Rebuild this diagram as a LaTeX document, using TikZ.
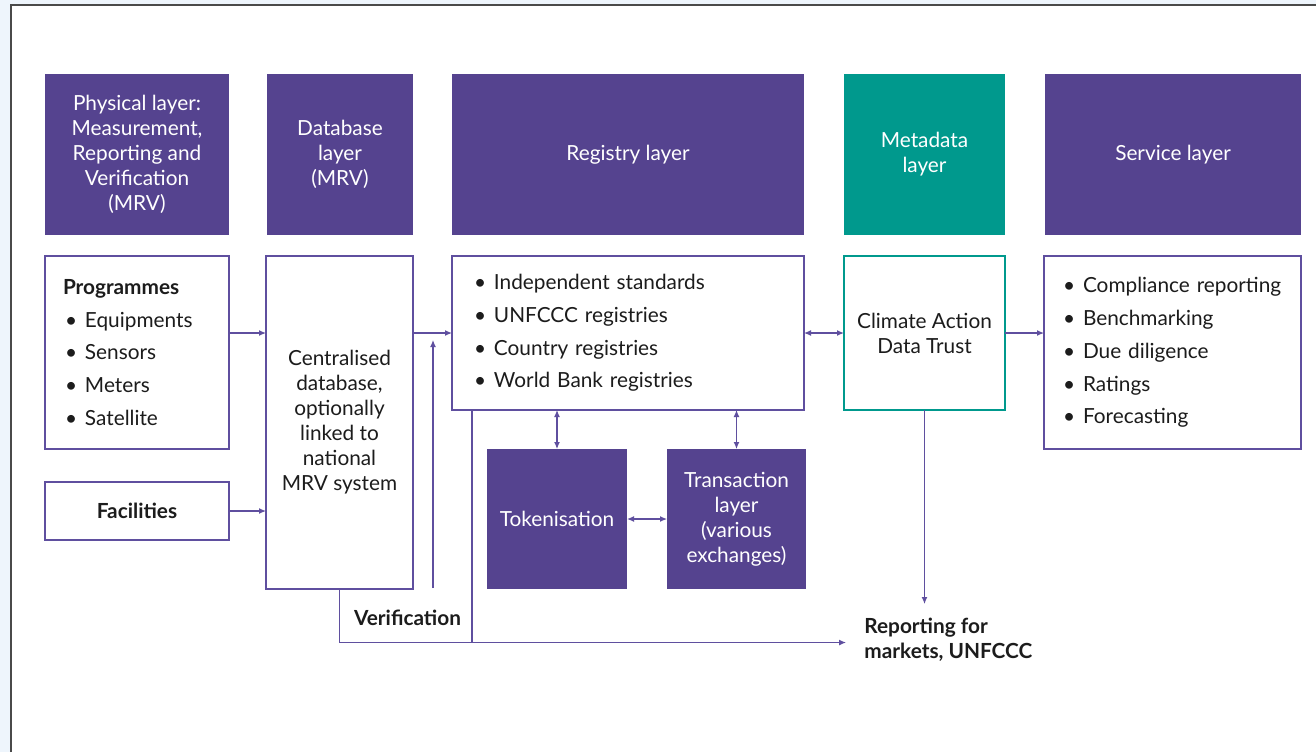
\documentclass[tikz,border=0pt]{standalone}
\usepackage{fontspec}
\setmainfont{Lato}
\usetikzlibrary{arrows.meta}

\definecolor{layerpurple}{HTML}{55438F}
\definecolor{layerteal}{HTML}{00998D}
\definecolor{linepurple}{HTML}{5F4F9F}
\definecolor{inkblack}{HTML}{1C1C1C}
\definecolor{pagebg}{HTML}{EEF5FC}
\definecolor{framegrey}{HTML}{4A4A4A}

\newcommand{\bul}{\makebox[10pt][l]{\textbullet}}

\tikzset{
  layerhead/.style={fill=layerpurple, text=white, align=center, inner sep=0pt, outer sep=0pt,
    font=\fontsize{10.4}{12.5}\selectfont},
  metahead/.style={layerhead, fill=layerteal},
  contentbox/.style={draw=linepurple, line width=0.6pt, fill=white, text=inkblack, align=center,
    inner sep=0pt, outer sep=0pt, font=\fontsize{10.4}{12.5}\selectfont},
  listbox/.style={contentbox, align=left, font=\fontsize{10.4}{16.4}\selectfont},
  link/.style={draw=linepurple, line width=0.6pt},
  onearrow/.style={link, -{Latex[length=3.5pt,width=3pt]}},
  twoarrow/.style={link, {Latex[length=3.5pt,width=3pt]}-{Latex[length=3.5pt,width=3pt]}},
  boldlabel/.style={text=inkblack, inner sep=0pt, font=\fontsize{10.4}{12.5}\selectfont\bfseries}
}

\begin{document}
\begin{tikzpicture}[x=0.5pt,y=-0.5pt]
    \useasboundingbox (0,0) rectangle (1316,752);
    \fill[pagebg] (0,0) rectangle (1316,752);
    \fill[white] (10.5,4.5) rectangle (1316,752);
    \draw[framegrey, line width=1pt] (10.5,752) -- (10.5,4.5) -- (1316,4.5);

    % layer headers
    \node[layerhead, minimum width=92pt, minimum height=80.5pt] (physhead) at (137,154.5)
        {Physical layer:\\Measurement,\\Reporting and\\Verification\\(MRV)};
    \node[layerhead, minimum width=73pt, minimum height=80.5pt] (dbhead) at (340,154.5)
        {Database\\layer\\(MRV)};
    \node[layerhead, minimum width=176pt, minimum height=80.5pt] (reghead) at (628,154.5)
        {Registry layer};
    \node[metahead, minimum width=80.5pt, minimum height=80.5pt] (metahead) at (924.5,154.5)
        {Metadata\\layer};
    \node[layerhead, minimum width=128pt, minimum height=80.5pt] (servhead) at (1173,154.5)
        {Service layer};

    % content boxes
    \node[listbox, inner xsep=9pt, text width=74pt, minimum height=96.5pt] (prog) at (137,352.5)
        {\textbf{Programmes}\\
         \hspace*{1pt}\bul Equipments\\
         \hspace*{1pt}\bul Sensors\\
         \hspace*{1pt}\bul Meters\\
         \hspace*{1pt}\bul Satellite};
    \node[contentbox, minimum width=92pt, minimum height=29pt] (fac) at (137,511)
        {\textbf{Facilities}};
    \node[contentbox, minimum width=73.5pt, minimum height=166.5pt] (cdb) at (339.5,422.5)
        {Centralised\\database,\\optionally\\linked to\\national\\MRV system};
    \node[listbox, inner xsep=11pt, text width=154pt, minimum height=77pt] (reg) at (628,333)
        {\bul Independent standards\\
         \bul UNFCCC registries\\
         \bul Country registries\\
         \bul World Bank registries};
    \node[contentbox, draw=layerteal, minimum width=80.5pt, minimum height=77pt] (cadt) at (924.5,333)
        {Climate Action\\Data Trust};
    \node[listbox, inner xsep=9.5pt, text width=109.5pt, minimum height=96.5pt] (serv) at (1172.5,352.5)
        {\bul Compliance reporting\\
         \bul Benchmarking\\
         \bul Due diligence\\
         \bul Ratings\\
         \bul Forecasting};
    \node[layerhead, minimum width=70pt, minimum height=70pt] (tok) at (557,519)
        {Tokenisation};
    \node[layerhead, minimum width=69.5pt, minimum height=70pt] (trans) at (736.5,519)
        {Transaction\\layer\\(various\\exchanges)};

    \node[boldlabel] (verif) at (407.5,618) {Verification};
    \node[boldlabel, anchor=west, align=left] (report) at (864,640) {Reporting for\\markets, UNFCCC};

    % connectors
    \draw[onearrow] (prog.east |- reg.west) -- (cdb.west |- reg.west);
    \draw[onearrow] (fac.east) -- (cdb.west |- fac.east);
    \draw[onearrow] (cdb.east |- reg.west) -- (reg.west);
    \draw[twoarrow] (reg.east) -- (cadt.west);
    \draw[onearrow] (cadt.east) -- (serv.west |- cadt.east);
    \draw[twoarrow] (tok.north |- reg.south) -- (tok.north);
    \draw[twoarrow] (trans.north |- reg.south) -- (trans.north);
    \draw[twoarrow] (tok.east) -- (trans.west);

    \coordinate (verifbase) at (433,588);
    \coordinate (veriftip) at (433,340);
    \draw[onearrow] (verifbase) -- (veriftip);

    \coordinate (reportin) at (846,642.5);
    \coordinate (regdrop) at (472,410);
    \draw[onearrow] (cdb.south) |- (reportin);
    \draw[link] (regdrop) -- (regdrop |- reportin);
    \draw[onearrow] (cadt.south) -- ++(0,194);

\end{tikzpicture}
\end{document}
